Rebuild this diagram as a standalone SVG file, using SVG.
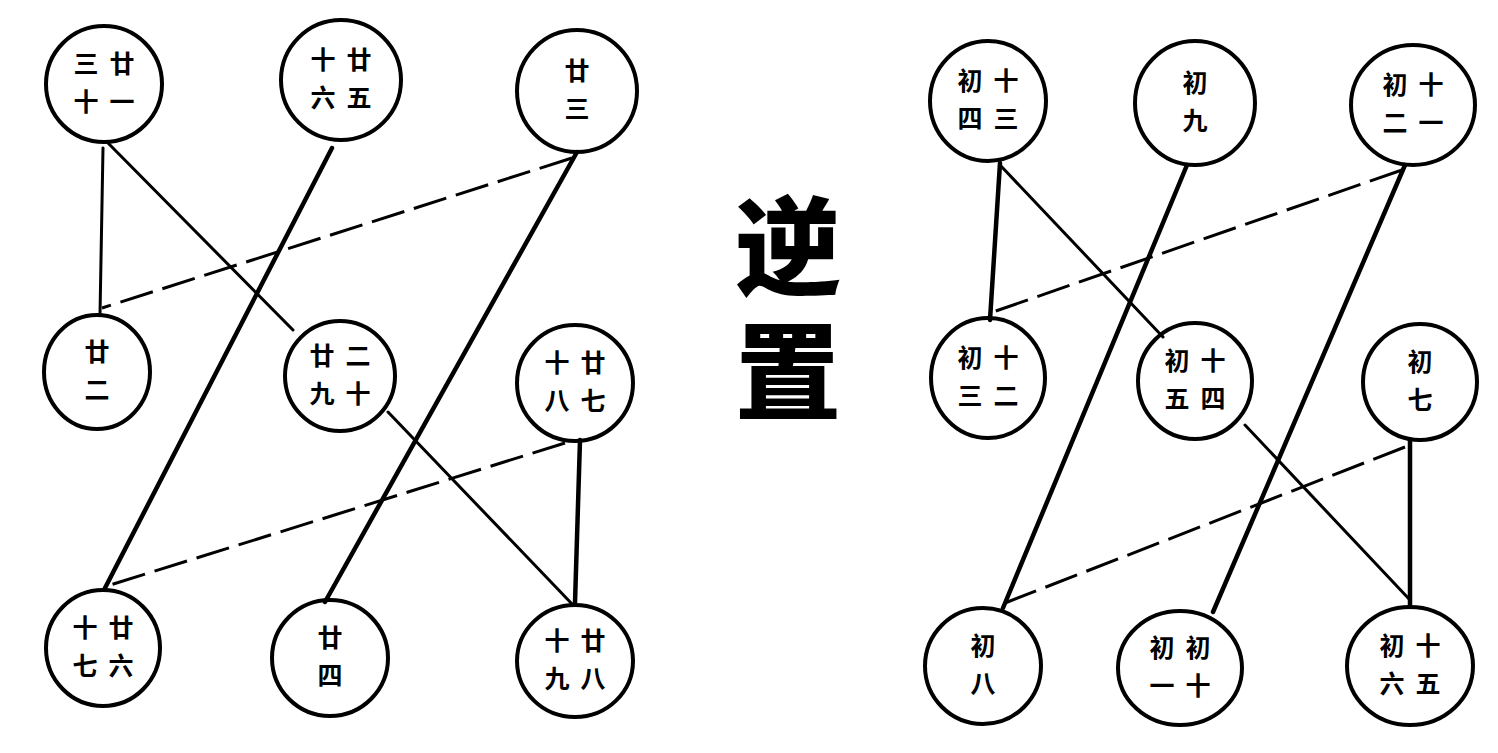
<svg xmlns="http://www.w3.org/2000/svg" width="1498" height="753" viewBox="0 0 1498 753">
<style>
.bg{fill:#fff}
.c{fill:none;stroke:#000;stroke-width:4}
.t{font-family:"Noto Sans CJK SC","Noto Sans CJK TC",sans-serif;font-weight:bold;font-size:25px;fill:#000;text-anchor:middle}
.big{font-family:"Noto Sans CJK SC","Noto Sans CJK TC",serif;font-weight:900;font-size:106px;fill:#000;text-anchor:middle;writing-mode:vertical-rl;letter-spacing:19px}
.thick{stroke:#000;stroke-width:4.5;fill:none;stroke-linecap:round}
.thin{stroke:#000;stroke-width:3;fill:none;stroke-linecap:round}
.dash{stroke:#000;stroke-width:3;fill:none;stroke-dasharray:34 10}
</style>
<rect class="bg" width="1498" height="753"/>
<g id="connectors">
  <line class="thin" x1="103" y1="148" x2="100" y2="315"/>
  <line class="thin" x1="108" y1="143" x2="293" y2="330"/>
  <line class="thick" x1="332" y1="148" x2="105" y2="588"/>
  <line class="dash" x1="572" y1="158" x2="102" y2="308"/>
  <line class="thick" x1="577" y1="152" x2="325" y2="602"/>
  <line class="thin" x1="388" y1="412" x2="573" y2="605"/>
  <line class="dash" x1="565" y1="443" x2="107" y2="586"/>
  <line class="thick" x1="580" y1="440" x2="575" y2="603"/>
  <line class="thick" x1="1000" y1="163" x2="990" y2="320"/>
  <line class="thin" x1="1000" y1="165" x2="1163" y2="337"/>
  <line class="thick" x1="1187" y1="165" x2="1003" y2="608"/>
  <line class="dash" x1="1402" y1="170" x2="993" y2="312"/>
  <line class="thick" x1="1405" y1="165" x2="1213" y2="612"/>
  <line class="thin" x1="1245" y1="425" x2="1410" y2="600"/>
  <line class="dash" x1="1405" y1="447" x2="1005" y2="603"/>
  <line class="thick" x1="1410" y1="440" x2="1410" y2="607"/>
</g>
<g id="title">
  <text class="big" x="788" y="318">逆置</text>
</g>
<g id="L-TL"><ellipse class="c" cx="104" cy="84" rx="58" ry="58"/>
  <text class="t" x="86" y="73">三</text><text class="t" x="122" y="73">廿</text><text class="t" x="86" y="111">十</text><text class="t" x="122" y="111">一</text></g>
<g id="L-TM"><ellipse class="c" cx="341" cy="80" rx="60" ry="60"/>
  <text class="t" x="323" y="69">十</text><text class="t" x="359" y="69">廿</text><text class="t" x="323" y="107">六</text><text class="t" x="359" y="107">五</text></g>
<g id="L-TR"><ellipse class="c" cx="577" cy="91" rx="60" ry="61"/>
  <text class="t" x="577" y="80">廿</text><text class="t" x="577" y="118">三</text></g>
<g id="L-ML"><ellipse class="c" cx="97" cy="372" rx="53" ry="57"/>
  <text class="t" x="97" y="361">廿</text><text class="t" x="97" y="399">二</text></g>
<g id="L-C"><ellipse class="c" cx="340" cy="376" rx="55" ry="55"/>
  <text class="t" x="322" y="365">廿</text><text class="t" x="358" y="365">二</text><text class="t" x="322" y="403">九</text><text class="t" x="358" y="403">十</text></g>
<g id="L-MR"><ellipse class="c" cx="575" cy="383" rx="58" ry="58"/>
  <text class="t" x="557" y="372">十</text><text class="t" x="593" y="372">廿</text><text class="t" x="557" y="410">八</text><text class="t" x="593" y="410">七</text></g>
<g id="L-BL"><ellipse class="c" cx="103" cy="648" rx="57" ry="58"/>
  <text class="t" x="85" y="637">十</text><text class="t" x="121" y="637">廿</text><text class="t" x="85" y="675">七</text><text class="t" x="121" y="675">六</text></g>
<g id="L-BM"><ellipse class="c" cx="330" cy="658" rx="58" ry="58"/>
  <text class="t" x="330" y="647">廿</text><text class="t" x="330" y="685">四</text></g>
<g id="L-BR"><ellipse class="c" cx="575" cy="661" rx="58" ry="56"/>
  <text class="t" x="557" y="650">十</text><text class="t" x="593" y="650">廿</text><text class="t" x="557" y="688">九</text><text class="t" x="593" y="688">八</text></g>
<g id="R-TL"><ellipse class="c" cx="988" cy="101" rx="58" ry="60"/>
  <text class="t" x="970" y="90">初</text><text class="t" x="1006" y="90">十</text><text class="t" x="970" y="128">四</text><text class="t" x="1006" y="128">三</text></g>
<g id="R-TM"><ellipse class="c" cx="1195" cy="103" rx="60" ry="62"/>
  <text class="t" x="1195" y="92">初</text><text class="t" x="1195" y="130">九</text></g>
<g id="R-TR"><ellipse class="c" cx="1413" cy="105" rx="62" ry="60"/>
  <text class="t" x="1395" y="94">初</text><text class="t" x="1431" y="94">十</text><text class="t" x="1395" y="132">二</text><text class="t" x="1431" y="132">一</text></g>
<g id="R-ML"><ellipse class="c" cx="988" cy="378" rx="57" ry="60"/>
  <text class="t" x="970" y="367">初</text><text class="t" x="1006" y="367">十</text><text class="t" x="970" y="405">三</text><text class="t" x="1006" y="405">二</text></g>
<g id="R-C"><ellipse class="c" cx="1195" cy="381" rx="57" ry="58"/>
  <text class="t" x="1177" y="370">初</text><text class="t" x="1213" y="370">十</text><text class="t" x="1177" y="408">五</text><text class="t" x="1213" y="408">四</text></g>
<g id="R-MR"><ellipse class="c" cx="1420" cy="382" rx="57" ry="58"/>
  <text class="t" x="1420" y="371">初</text><text class="t" x="1420" y="409">七</text></g>
<g id="R-BL"><ellipse class="c" cx="983" cy="666" rx="58" ry="58"/>
  <text class="t" x="983" y="655">初</text><text class="t" x="983" y="693">八</text></g>
<g id="R-BM"><ellipse class="c" cx="1180" cy="668" rx="62" ry="57"/>
  <text class="t" x="1162" y="657">初</text><text class="t" x="1198" y="657">初</text><text class="t" x="1162" y="695">一</text><text class="t" x="1198" y="695">十</text></g>
<g id="R-BR"><ellipse class="c" cx="1410" cy="666" rx="63" ry="59"/>
  <text class="t" x="1392" y="655">初</text><text class="t" x="1428" y="655">十</text><text class="t" x="1392" y="693">六</text><text class="t" x="1428" y="693">五</text></g>
</svg>
